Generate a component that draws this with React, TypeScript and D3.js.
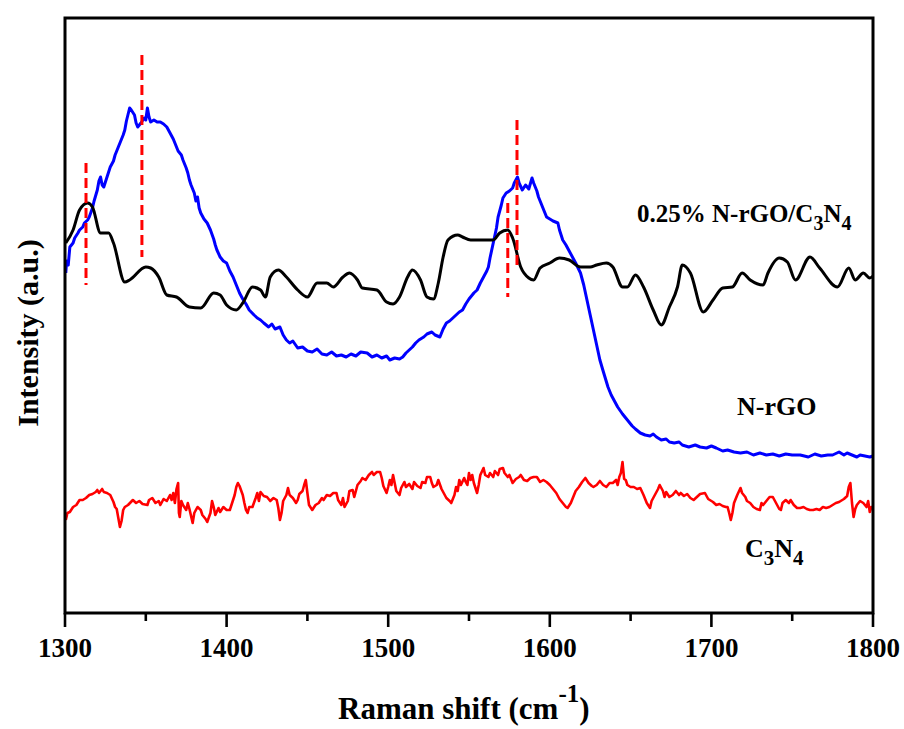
import React from 'react';
import * as d3 from 'd3';

const W = 904;
const H = 729;

const xMajorTicks = [1300, 1400, 1500, 1600, 1700, 1800];
const xMinorTicks = [1350, 1450, 1550, 1650, 1750];

// 0.25% N-rGO/C3N4 (black)
const hybridWn = [1300.5,1305,1309,1314,1317,1322,1327,1330,1337,1340,1350,1353,1358,1363,1369,1377,1384,1392,1396,1400,1406,1410,1416,1421,1424,1427,1432,1437,1444,1450,1456,1462,1466,1472,1476,1481,1484,1493,1499,1503,1507,1512,1515,1520,1524,1528,1531,1534,1537,1543,1546,1551,1565,1569,1574,1577,1582,1587,1590,1594,1600,1606,1612,1619,1625,1629,1635,1639,1645,1648,1653,1658,1664,1669,1674,1679,1682,1687,1695,1701,1707,1713,1719,1724,1732,1735,1742,1747,1752,1761,1767,1778,1785,1789,1794,1798,1800];
const hybridI = [370,383,403,410,406,380,380,370,331,333,346,345,336,318,316,306,305,320,318,308,303,310,326,323,316,336,343,336,323,316,330,330,326,336,340,333,325,323,311,309,316,336,343,333,316,314,330,356,373,378,376,373,373,380,383,375,346,335,333,345,350,355,353,346,346,348,350,346,326,326,338,326,303,288,306,326,348,340,301,313,325,326,340,333,328,340,355,351,333,356,345,326,345,333,340,335,337];

// N-rGO (blue)
const nrgoWn = [1300.5,1301,1302,1303,1305,1306,1308,1309,1311,1312,1314,1315,1317,1318,1320,1321,1322,1323,1324,1326,1328,1330,1331,1333,1334,1336,1337,1338,1340,1341,1343,1344,1345,1347,1349,1350,1351,1352,1353,1355,1357,1359,1361,1363,1365,1367,1368,1370,1372,1373,1375,1376,1377,1378,1379,1380,1381,1382,1383,1384,1386,1388,1390,1392,1393,1394,1396,1398,1400,1402,1404,1406,1408,1410,1412,1414,1417,1419,1421,1423,1426,1428,1430,1433,1435,1437,1439,1441,1444,1447,1450,1453,1456,1459,1462,1465,1468,1471,1474,1477,1480,1483,1487,1490,1493,1496,1499,1501,1504,1507,1509,1511,1513,1515,1517,1519,1522,1524,1527,1529,1532,1534,1536,1538,1540,1542,1544,1546,1548,1550,1551,1553,1555,1557,1559,1561,1562,1563,1565,1567,1568,1570,1571,1573,1575,1577,1578,1580,1581,1583,1585,1587,1589,1590,1592,1593,1595,1597,1598,1600,1602,1605,1606,1608,1610,1612,1614,1616,1619,1621,1623,1625,1627,1629,1631,1633,1636,1638,1640,1642,1645,1648,1651,1653,1656,1659,1662,1664,1666,1669,1672,1674,1677,1680,1682,1686,1690,1693,1697,1700,1703,1707,1710,1714,1718,1722,1726,1730,1734,1738,1742,1746,1750,1755,1760,1764,1768,1772,1775,1779,1782,1784,1787,1790,1792,1795,1798,1800];
const nrgoI = [340,352,348,366,370,375,380,383,386,390,393,396,405,412,423,432,436,428,426,436,446,452,458,466,470,478,483,492,505,503,498,490,486,490,495,493,505,496,491,493,491,491,489,486,480,474,470,462,458,453,445,440,433,428,424,420,412,416,405,400,394,390,383,374,368,363,356,352,350,342,336,328,320,314,309,303,298,295,293,290,286,289,284,286,278,273,270,272,265,266,262,261,264,259,258,261,257,258,256,259,257,261,260,256,258,255,257,253,255,254,256,260,263,266,270,273,276,279,281,278,276,284,290,292,295,298,301,303,309,314,316,320,323,330,336,342,346,355,370,385,396,408,415,420,422,425,430,436,430,423,428,424,435,430,422,416,408,400,396,394,392,390,383,373,368,362,356,350,340,328,313,298,283,268,253,242,226,218,212,206,199,193,187,184,180,178,177,179,176,173,174,171,170,171,168,166,168,166,165,167,165,162,163,161,160,161,158,160,158,159,157,159,158,158,156,159,157,158,158,161,158,160,158,156,158,157,156,157];

// C3N4 (red)
const c3n4Wn = [1300.5,1301.5,1303,1305,1307,1309,1311,1313,1315,1317,1319,1320,1321,1323,1324,1326,1328,1330,1331,1332,1333,1334,1335,1336,1337,1339,1342,1344,1346,1348,1351,1352,1354,1356,1358,1359,1361,1363,1365,1366,1367,1368,1369,1370,1370.5,1371,1372,1373,1375,1376,1377,1379,1380,1382,1384,1385,1387,1388,1390,1391,1392,1393,1395,1396,1398,1400,1402,1403,1405,1406,1407,1408,1410,1411,1412,1413,1414,1416,1418,1419,1420,1421,1423,1425,1427,1429,1431,1432,1433,1434,1435,1437,1438,1439,1441,1443,1444,1445,1447,1448,1449,1450,1451,1453,1455,1457,1459,1460,1462,1464,1466,1468,1469,1471,1472,1473,1475,1476,1478,1479,1481,1483,1484,1486,1488,1490,1491,1493,1495,1496,1497,1499,1500,1501,1502,1503,1504,1505,1507,1508,1510,1511,1513,1515,1516,1518,1520,1521,1523,1524,1526,1527,1528,1530,1531,1533,1534,1536,1538,1539,1541,1542,1543,1544,1545,1547,1548,1549,1550,1551,1552,1553,1555,1556,1557,1559,1560,1562,1563,1565,1566,1568,1569,1571,1572,1574,1575,1577,1579,1581,1582,1584,1586,1588,1590,1592,1594,1596,1598,1600,1602,1604,1606,1608,1610,1611,1613,1615,1616,1618,1620,1622,1624,1626,1627,1629,1631,1633,1635,1637,1639,1641,1642,1643,1644,1645,1646,1647,1648,1650,1652,1654,1656,1658,1660,1662,1663,1665,1667,1668,1670,1671,1672,1674,1676,1678,1680,1681,1683,1685,1687,1689,1691,1693,1696,1698,1700,1701,1703,1705,1707,1709,1710,1711,1712,1713,1714,1716,1718,1719,1721,1722,1724,1726,1728,1730,1731,1732,1734,1736,1738,1740,1742,1743,1744,1746,1748,1749,1751,1753,1755,1757,1759,1761,1763,1765,1767,1769,1771,1773,1775,1777,1779,1780,1782,1784,1785,1786,1787,1788,1789,1790,1792,1794,1796,1797,1798,1799,1800];
const c3n4I = [93,100,101,106,108,113,113,115,118,119,121,123,120,124,121,120,118,111,106,104,95,86,92,103,106,108,113,110,112,109,108,113,115,110,112,108,114,112,118,113,120,110,124,130,100,96,112,108,103,110,104,90,100,106,103,98,94,91,100,112,106,98,105,101,106,103,103,108,118,126,130,127,118,110,103,100,106,106,115,120,112,121,117,116,112,115,113,105,93,100,112,118,125,118,115,110,113,119,122,128,133,120,108,103,108,110,115,113,118,117,120,120,113,108,115,106,112,122,123,116,128,132,135,133,138,141,138,141,141,135,127,120,126,133,128,138,130,122,118,125,131,126,129,124,131,127,125,131,130,136,136,130,126,128,133,124,121,115,112,110,118,126,122,133,128,135,131,128,140,133,138,130,120,128,138,145,138,136,140,136,142,138,144,145,140,136,138,130,134,136,138,133,132,135,136,136,131,133,131,128,124,120,114,110,106,105,110,118,122,126,131,135,130,127,126,128,132,128,126,130,130,133,128,136,140,151,134,133,128,126,126,124,125,118,110,105,112,118,124,128,122,116,121,116,118,122,118,120,117,119,115,113,116,119,120,114,112,111,108,109,107,106,106,100,93,100,110,118,125,120,116,112,110,106,104,103,110,108,112,116,116,110,104,103,110,113,110,113,108,105,105,106,104,103,103,104,103,106,105,106,108,110,111,112,114,117,126,130,110,96,104,108,112,110,106,112,101,106,105];

// dashed reference lines: position, lower and upper intensity
const markWn = [1313, 1347.6, 1574, 1579.7];
const markLow = [328, 356, 316, 346];
const markHigh = [450, 558, 410, 493];

const left = 65, right = 873, top = 18, bottom = 613;

export default function App() {
  const x = d3.scaleLinear().domain([1300, 1800]).range([left, right]);
  const y = d3.scaleLinear().domain([0, 595]).range([bottom, top]);
  const line = d3.line<[number, number]>().x(d => x(d[0])).y(d => y(d[1]));
  const smooth = d3.line<[number, number]>().x(d => x(d[0])).y(d => y(d[1])).curve(d3.curveMonotoneX);
  const hybrid = hybridWn.map((w, i) => [w, hybridI[i]] as [number, number]);
  const nrgo = nrgoWn.map((w, i) => [w, nrgoI[i]] as [number, number]);
  const c3n4 = c3n4Wn.map((w, i) => [w, c3n4I[i]] as [number, number]);
  const font = '"Liberation Serif", "Times New Roman", serif';

  return (
    <svg width={W} height={H} style={{ position: 'absolute', left: 0, top: 0, background: '#fff' }} fontFamily={font}>
      <rect x={0} y={0} width={W} height={H} fill="#fff" />
      <g fill="none" strokeLinejoin="round">
        <path d={line(c3n4) || ''} stroke="#ff0000" strokeWidth={2.6} />
        <path d={line(nrgo) || ''} stroke="#0000ff" strokeWidth={3} />
        <path d={smooth(hybrid) || ''} stroke="#000" strokeWidth={3} />
        {markWn.map((w, i) => (
          <line key={i} x1={x(w)} x2={x(w)} y1={y(markHigh[i])} y2={y(markLow[i])} stroke="#ff0000" strokeWidth={3} strokeDasharray="10,5" />
        ))}
      </g>
      <rect x={left} y={top} width={right - left} height={bottom - top} fill="none" stroke="#000" strokeWidth={3} />
      {xMajorTicks.map(t => (
        <g key={t}>
          <line x1={x(t)} x2={x(t)} y1={bottom} y2={bottom + 14} stroke="#000" strokeWidth={2.6} />
          <text x={x(t)} y={657} textAnchor="middle" fontSize={27} fontWeight="bold">{t}</text>
        </g>
      ))}
      {xMinorTicks.map(t => (
        <line key={t} x1={x(t)} x2={x(t)} y1={bottom} y2={bottom + 8} stroke="#000" strokeWidth={2.6} />
      ))}
      <text x={338} y={719} fontSize={31} fontWeight="bold">Raman shift (cm<tspan dy={-17} fontSize={25}>-1</tspan><tspan dy={17} fontSize={31}>)</tspan></text>
      <text transform="translate(38,333) rotate(-90)" textAnchor="middle" fontSize={30} fontWeight="bold">Intensity (a.u.)</text>
      <text x={637} y={222} fontSize={25} fontWeight="bold">0.25%  N-rGO/C<tspan dy={8} fontSize={20}>3</tspan><tspan dy={-8}>N</tspan><tspan dy={8} fontSize={20}>4</tspan></text>
      <text x={737} y={415} fontSize={26} fontWeight="bold">N-rGO</text>
      <text x={745} y={557} fontSize={26} fontWeight="bold">C<tspan dy={8} fontSize={21}>3</tspan><tspan dy={-8}>N</tspan><tspan dy={8} fontSize={21}>4</tspan></text>
    </svg>
  );
}
